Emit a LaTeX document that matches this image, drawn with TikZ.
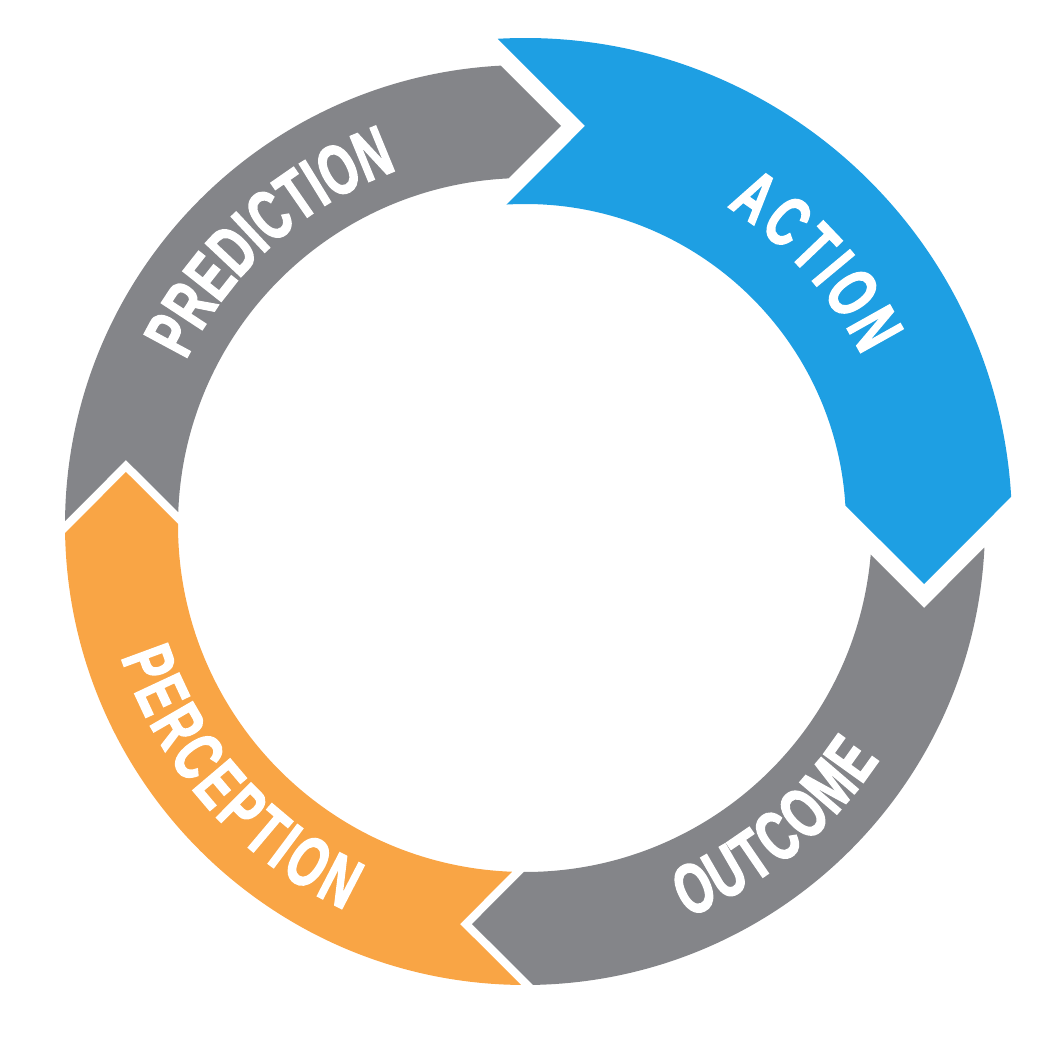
\documentclass[tikz,border=0pt]{standalone}
\usepackage{fontspec}
\newfontfamily\wordfont{Liberation Sans}[FakeStretch=0.66,FakeBold=2]
\usetikzlibrary{decorations.text}
\definecolor{actblue}{RGB}{30,159,227}
\definecolor{cyclegray}{RGB}{132,133,137}
\definecolor{percorange}{RGB}{249,165,69}
\newcommand\wordstyle{\wordfont\bfseries\fontsize{71}{71}\selectfont}
\tikzset{
  word/.style={decorate, decoration={text along path, text={|\wordstyle|#1}, text align={fit to path}, text color=white}}
}
\begin{document}
\begin{tikzpicture}[x=1pt,y=1pt]
\useasboundingbox (-525pt,-526pt) rectangle (526pt,525pt);
% ACTION (blue, wider band)
\fill[actblue] (93.21:487pt) arc[start angle=93.21, end angle=3.317, radius=487pt]
  -- (399pt,-59pt) -- (3.50:321pt) arc[start angle=3.50, end angle=93.31, radius=321pt]
  -- (60pt,399pt) -- cycle;
% OUTCOME
\fill[cyclegray] (-2.81:460pt) arc[start angle=-2.81, end angle=-89.01, radius=460pt]
  -- (-53pt,-399pt) -- (-90.17:347pt) arc[start angle=-90.17, end angle=-4.91, radius=347pt]
  -- (399pt,-83pt) -- cycle;
% PERCEPTION
\fill[percorange] (-90.50:460pt) arc[start angle=-90.50, end angle=-179.01, radius=460pt]
  -- (-399pt,53pt) -- (-180.17:347pt) arc[start angle=-180.17, end angle=-92.11, radius=347pt]
  -- (-65pt,-399pt) -- cycle;
% PREDICTION
\fill[cyclegray] (179.50:460pt) arc[start angle=179.50, end angle=93.03, radius=460pt]
  -- (36pt,399pt) -- (92.71:347pt) arc[start angle=92.71, end angle=177.89, radius=347pt]
  -- (-399pt,65pt) -- cycle;
% labels
\path[word=ACTION] (57.6:377pt) arc[start angle=57.6, end angle=26.7, radius=377pt];
\path[word=PREDICTION] (154.1:377pt) arc[start angle=154.1, end angle=109.8, radius=377pt];
\path[word=OUTCOME] (-67.5:425pt) arc[start angle=-67.5, end angle=-33.5, radius=425pt];
\path[word=PERCEPTION] (198.1:425pt) arc[start angle=198.1, end angle=244.9, radius=425pt];
\end{tikzpicture}
\end{document}
